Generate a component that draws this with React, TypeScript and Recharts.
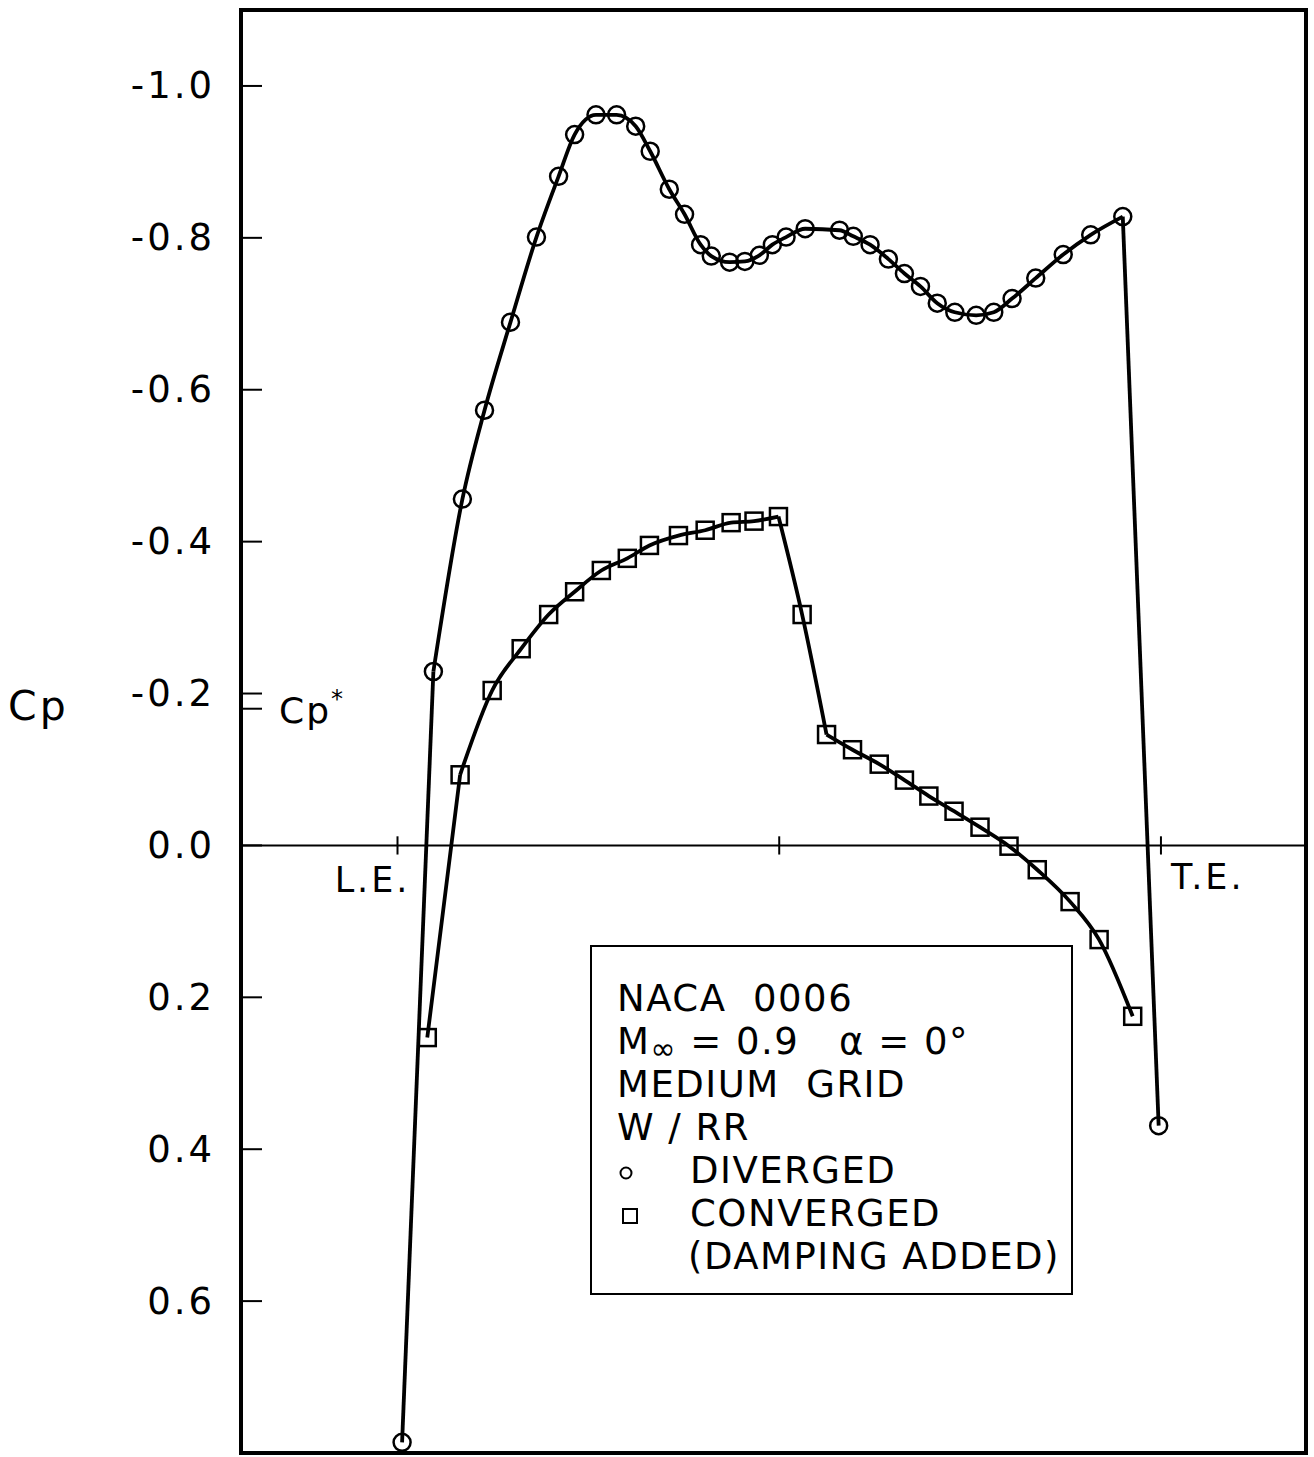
import React from "react"
import {
  ComposedChart,
  Line,
  Scatter,
  XAxis,
  YAxis,
  ReferenceLine,
  ReferenceArea,
  Legend,
} from "recharts"

// chordwise station x/c and pressure coefficient, diverged run (circles)
const divergedX = [
  0.006, 0.047, 0.085, 0.114, 0.148, 0.182, 0.211, 0.232, 0.26, 0.287, 0.312, 0.331,
  0.356, 0.376, 0.397, 0.411, 0.435, 0.455, 0.474, 0.491, 0.509, 0.534, 0.579, 0.597,
  0.619, 0.643, 0.664, 0.685, 0.707, 0.73, 0.758, 0.781, 0.805, 0.836, 0.872, 0.908,
  0.95, 0.997,
]
const divergedCp = [
  0.786, -0.229, -0.456, -0.573, -0.689, -0.801, -0.881, -0.936, -0.962, -0.962, -0.947, -0.914,
  -0.864, -0.831, -0.791, -0.776, -0.768, -0.769, -0.777, -0.791, -0.801, -0.812, -0.81, -0.802,
  -0.791, -0.772, -0.753, -0.736, -0.714, -0.702, -0.698, -0.702, -0.72, -0.747, -0.778, -0.804,
  -0.828, 0.369,
]

// converged run with damping added (squares)
const convergedX = [
  0.039, 0.082, 0.124, 0.162, 0.198, 0.232, 0.267, 0.301, 0.33, 0.368, 0.403, 0.437,
  0.467, 0.499, 0.53, 0.562, 0.596, 0.631, 0.664, 0.696, 0.729, 0.763, 0.801, 0.838,
  0.881, 0.919, 0.963,
]
const convergedCp = [
  0.253, -0.093, -0.204, -0.259, -0.304, -0.334, -0.362, -0.378, -0.395, -0.408, -0.415, -0.425,
  -0.427, -0.433, -0.304, -0.146, -0.126, -0.107, -0.086, -0.065, -0.045, -0.024, 0.001, 0.032,
  0.074, 0.124, 0.225,
]

const cpTicks = [-1.0, -0.8, -0.6, -0.4, -0.2, 0, 0.2, 0.4, 0.6]
const chordTicks = [0, 0.5, 1]
const cpStar = -0.18

const xDomain: [number, number] = [-0.205, 1.19]
const yDomain: [number, number] = [-1.1, 0.8]

const diverged = divergedX.map((x, i) => ({ x, cp: divergedCp[i] }))
const converged = convergedX.map((x, i) => ({ x, cp: convergedCp[i] }))

// the faired curves have corners at a few points, so draw them in pieces
const curvePieces = [
  { id: "d0", data: diverged.slice(0, 2), type: "linear" },
  { id: "d1", data: diverged.slice(1, 37), type: "monotone" },
  { id: "d2", data: diverged.slice(36), type: "linear" },
  { id: "c0", data: converged.slice(0, 2), type: "linear" },
  { id: "c1", data: converged.slice(1, 14), type: "monotone" },
  { id: "c2", data: converged.slice(13, 16), type: "monotone" },
  { id: "c3", data: converged.slice(15), type: "monotone" },
]

const FONT = "'DejaVu Sans', sans-serif"

function CircleMark(props: any) {
  const { cx, cy } = props
  return <circle cx={cx} cy={cy} r={8.5} fill="none" stroke="#000" strokeWidth={2.5} />
}

function SquareMark(props: any) {
  const { cx, cy } = props
  return <rect x={cx - 8.5} y={cy - 8.5} width={17} height={17} fill="none" stroke="#000" strokeWidth={2.5} />
}

function CpTick(props: any) {
  const { x, y, payload } = props
  const label = payload.value.toFixed(1)
  return (
    <g>
      <line x1={x} x2={x + 21} y1={y} y2={y} stroke="#000" strokeWidth={2} />
      <text
        x={x - 26}
        y={y}
        textAnchor="end"
        dominantBaseline="central"
        fontFamily={FONT}
        fontSize={37}
        letterSpacing={3}
        fill="#000"
      >
        {label}
      </text>
    </g>
  )
}

function NoteBox() {
  const line: React.CSSProperties = { height: 43, lineHeight: "43px", whiteSpace: "pre" }
  return (
    <div
      style={{
        width: 483,
        height: 350,
        border: "2px solid #000",
        background: "#fff",
        boxSizing: "border-box",
        fontFamily: FONT,
        fontSize: 37,
        letterSpacing: 1.5,
        color: "#000",
        paddingTop: 30,
        paddingLeft: 25,
      }}
    >
      <div style={line}>NACA  0006</div>
      <div style={line}>
        M<span style={{ fontSize: 30, verticalAlign: "-5px" }}>∞</span> = 0.9   α = 0°
      </div>
      <div style={line}>MEDIUM  GRID</div>
      <div style={line}>W / RR</div>
      <div style={{ ...line, display: "flex", alignItems: "center" }}>
        <svg width={73} height={43}>
          <circle cx={9} cy={24} r={5.5} fill="none" stroke="#000" strokeWidth={2} />
        </svg>
        <span>DIVERGED</span>
      </div>
      <div style={{ ...line, display: "flex", alignItems: "center" }}>
        <svg width={73} height={43}>
          <rect x={6} y={17} width={14} height={14} fill="none" stroke="#000" strokeWidth={2} />
        </svg>
        <span>CONVERGED</span>
      </div>
      <div style={{ ...line, paddingLeft: 71 }}>(DAMPING ADDED)</div>
    </div>
  )
}

export default function App() {
  return (
    <div style={{ position: "absolute", left: 0, top: 0, width: 1314, height: 1457, background: "#fff" }}>
      <ComposedChart width={1314} height={1457} margin={{ top: 10, right: 8, bottom: 4, left: 0 }}>
        <XAxis type="number" dataKey="x" domain={xDomain} allowDataOverflow hide />
        <YAxis
          type="number"
          dataKey="cp"
          domain={yDomain}
          allowDataOverflow
          reversed
          width={241}
          ticks={cpTicks}
          interval={0}
          tick={<CpTick />}
          tickSize={0}
          tickMargin={0}
          axisLine={false}
          tickLine={false}
          label={(p: any) => (
            <text
              x={8}
              y={p.viewBox.y + p.viewBox.height * 0.482}
              dominantBaseline="central"
              fontFamily={FONT}
              fontSize={41}
              letterSpacing={3}
              fill="#000"
            >
              Cp
            </text>
          )}
        />
        <ReferenceArea
          x1={xDomain[0]}
          x2={xDomain[1]}
          y1={yDomain[0]}
          y2={yDomain[1]}
          fill="none"
          stroke="#000"
          strokeWidth={4}
          ifOverflow="visible"
        />
        <ReferenceLine y={0} stroke="#000" strokeWidth={2} />
        {chordTicks.map((t) => (
          <ReferenceLine
            key={t}
            segment={[
              { x: t, y: -0.012 },
              { x: t, y: 0.012 },
            ]}
            stroke="#000"
            strokeWidth={2}
          />
        ))}
        <ReferenceLine
          segment={[
            { x: xDomain[0], y: cpStar },
            { x: xDomain[0] + 0.0275, y: cpStar },
          ]}
          stroke="#000"
          strokeWidth={2}
          label={(p: any) => (
            <text fontFamily={FONT} fill="#000">
              <tspan x={p.viewBox.x + 38} y={p.viewBox.y + 14} fontSize={36} letterSpacing={2}>
                Cp
              </tspan>
              <tspan dy={-16} fontSize={24}>*</tspan>
            </text>
          )}
        />
        <ReferenceLine
          segment={[
            { x: 0, y: 0.012 },
            { x: 0, y: 0.012 },
          ]}
          stroke="none"
          label={(p: any) => (
            <text
              x={p.viewBox.x + 13}
              y={p.viewBox.y + 37}
              textAnchor="end"
              fontFamily={FONT}
              fontSize={35}
              letterSpacing={3}
              fill="#000"
            >
              L.E.
            </text>
          )}
        />
        <ReferenceLine
          segment={[
            { x: 1, y: 0.012 },
            { x: 1, y: 0.012 },
          ]}
          stroke="none"
          label={(p: any) => (
            <text
              x={p.viewBox.x + 10}
              y={p.viewBox.y + 34}
              textAnchor="start"
              fontFamily={FONT}
              fontSize={35}
              letterSpacing={3}
              fill="#000"
            >
              T.E.
            </text>
          )}
        />
        {curvePieces.map((piece) => (
          <Line
            key={piece.id}
            data={piece.data}
            dataKey="cp"
            type={piece.type as any}
            stroke="#000"
            strokeWidth={3.8}
            dot={false}
            activeDot={false}
            isAnimationActive={false}
          />
        ))}
        <Scatter data={diverged} dataKey="cp" shape={<CircleMark />} isAnimationActive={false} />
        <Scatter data={converged} dataKey="cp" shape={<SquareMark />} isAnimationActive={false} />
        <Legend
          layout="horizontal"
          verticalAlign="middle"
          align="center"
          content={<NoteBox />}
          wrapperStyle={{ left: 590, top: 945, width: 483, height: 350 }}
        />
      </ComposedChart>
    </div>
  )
}
